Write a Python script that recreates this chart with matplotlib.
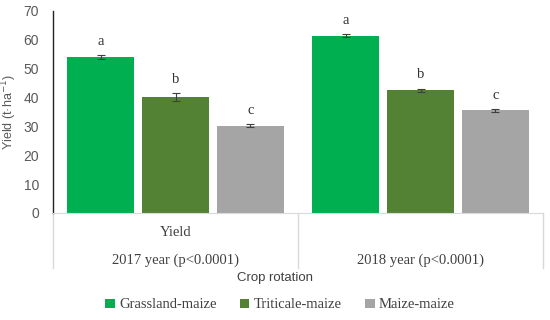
import numpy as np
import matplotlib.pyplot as plt

# data
years = ['2017 year (p<0.0001)', '2018 year (p<0.0001)']
series = ['Grassland-maize', 'Triticale-maize', 'Maize-maize']
yield_vals = [[54.0, 61.5],
              [40.2, 42.5],
              [30.3, 35.6]]
yield_err = [[0.8, 0.5],
             [1.3, 0.6],
             [0.4, 0.5]]
letters = [['a', 'a'], ['b', 'b'], ['c', 'c']]
colors = ['#00B050', '#548235', '#A5A5A5']

fig = plt.figure(figsize=(5.5, 3.2), dpi=100)
ax = fig.add_axes([53/550, 1 - 213/320, 490/550, 202/320])

x = np.arange(len(years))
w = 0.27
step = 0.306
for i, name in enumerate(series):
    xs = x + (i - 1) * step
    ax.bar(xs, yield_vals[i], width=w, color=colors[i], label=name, zorder=2)
    ax.errorbar(xs, yield_vals[i], yerr=yield_err[i], fmt='none', ecolor='#404040',
                elinewidth=0.8, capsize=3, capthick=0.8, zorder=3)
    for xx, v, e, t in zip(xs, yield_vals[i], yield_err[i], letters[i]):
        ax.text(xx, v + e + 2.5, t, ha='center', va='bottom',
                family='Liberation Serif', fontsize=10.5, color='#333333')

ax.set_xlim(-0.5, 1.5)
ax.set_ylim(0, 70)
ax.set_yticks(range(0, 71, 10))
ax.tick_params(axis='y', length=0, labelsize=10, labelcolor='#595959', pad=10)
for lab in ax.get_yticklabels():
    lab.set_family('Liberation Sans')
ax.set_xticks([])
for s in ['top', 'right']:
    ax.spines[s].set_visible(False)
ax.spines['left'].set_color('#222222')
ax.spines['left'].set_linewidth(1.0)
ax.spines['bottom'].set_color('#D9D9D9')

ax.set_ylabel('Yield (t·ha$^{-1}$)', fontsize=9, color='#595959',
              family='Liberation Sans', labelpad=3)

# category axis with separators
trans = ax.get_xaxis_transform()
depth = -55 / 202
for xv in [-0.5, 0.5, 1.5]:
    ax.plot([xv, xv], [0, depth], transform=trans, color='#D9D9D9', lw=1, clip_on=False)
ax.text(0, -20 / 202, 'Yield', transform=trans, ha='center', va='center',
        family='Liberation Serif', fontsize=10.5, color='#404040')
for xi, yr in zip(x, years):
    ax.text(xi, -47 / 202, yr, transform=trans, ha='center', va='center',
            family='Liberation Serif', fontsize=10.5, color='#404040')

fig.text(275 / 550, 1 - 278 / 320, 'Crop rotation', ha='center', va='center',
         family='Liberation Sans', fontsize=9.5, color='#404040')

fig.legend(loc='center', bbox_to_anchor=(280 / 550, 1 - 305 / 320), ncol=3,
           frameon=False, handlelength=0.65, handleheight=0.65, handletextpad=0.3,
           columnspacing=1.6, prop={'family': 'Liberation Serif', 'size': 10.5},
           labelcolor='#404040')

fig.savefig('out.png', dpi=100)
